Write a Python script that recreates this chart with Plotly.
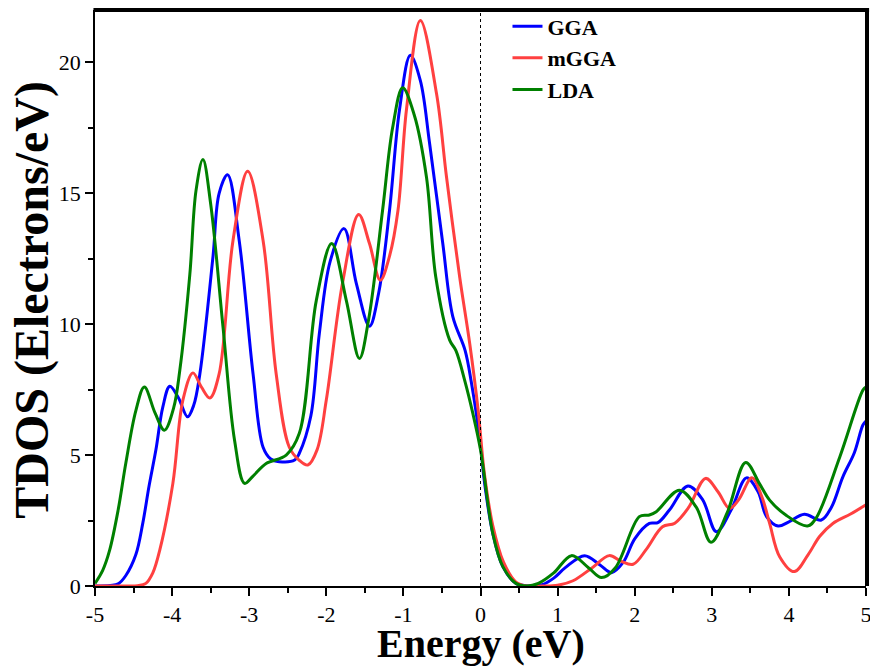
import plotly.graph_objects as go

# ---- data ----
gga_x = [-5, -4.8, -4.7, -4.6, -4.47, -4.38, -4.3, -4.21, -4.12, -4.03, -3.92, -3.80, -3.72, -3.64, -3.47, -3.39,
         -3.28, -3.13, -2.95, -2.82, -2.72, -2.61, -2.41, -2.35, -2.2, -2.09, -1.95, -1.77, -1.61, -1.44,
         -1.32, -1.18, -1.05, -0.91, -0.78, -0.66, -0.49, -0.36, -0.2, -0.12, 0, 0.05, 0.16, 0.29, 0.46,
         0.64, 0.8, 0.95, 1.1, 1.35, 1.55, 1.70, 1.85, 2.0, 2.19, 2.30, 2.45, 2.69, 2.88, 3.06, 3.25, 3.45,
         3.6, 3.71, 3.86, 4.0, 4.20, 4.42, 4.55, 4.70, 4.85, 4.96, 5.0]
gga_y = [0, 0.02, 0.08, 0.4, 1.2, 2.4, 3.8, 5.2, 6.84, 7.63, 7.2, 6.46, 6.9, 8.1, 12.57, 15.0,
         15.71, 13.2, 8.1, 5.3, 4.85, 4.75, 4.81, 5.07, 6.5, 9.65, 12.4, 13.65, 11.55, 9.92,
         11.2, 14.35, 18.2, 20.27, 19.3, 16.9, 13.1, 10.3, 9.0, 7.8, 5.4, 4.0, 2.0, 0.74, 0.1,
         0.0, 0.05, 0.3, 0.7, 1.16, 0.8, 0.51, 0.9, 1.8, 2.39, 2.42, 2.9, 3.82, 3.3, 2.07, 2.9, 4.13,
         3.6, 2.65, 2.29, 2.45, 2.74, 2.52, 3.0, 4.17, 5.1, 6.15, 6.3]

mgga_x = [-5, -4.6, -4.45, -4.34, -4.25, -4.16, -3.99, -3.86, -3.73, -3.62, -3.51, -3.39, -3.21, -3.02,
          -2.82, -2.65, -2.48, -2.35, -2.24, -2.12, -2.0, -1.79, -1.58, -1.44, -1.30, -1.18, -1.07, -0.96,
          -0.78, -0.57, -0.44, -0.27, -0.14, -0.03, 0.05, 0.16, 0.3, 0.46, 0.6, 0.8, 1.0, 1.2, 1.45, 1.67,
          1.82, 1.98, 2.15, 2.36, 2.52, 2.7, 2.92, 3.08, 3.23, 3.35, 3.52, 3.65, 3.75, 3.88, 4.07, 4.25,
          4.4, 4.57, 4.8, 5.0]
mgga_y = [0, 0.0, 0.01, 0.1, 0.5, 1.37, 3.92, 7.1, 8.14, 7.6, 7.18, 8.1, 13.2, 15.84,
          13.2, 8.1, 5.3, 4.8, 4.62, 5.2, 7.1, 11.56, 14.19, 13.08, 11.68, 12.6, 14.35, 18.2,
          21.6, 18.8, 15.6, 11.8, 9.26, 6.7, 4.3, 2.3, 0.9, 0.15, 0.0, 0.0, 0.03, 0.2, 0.7, 1.16,
          0.95, 0.83, 1.4, 2.26, 2.4, 3.0, 4.11, 3.6, 2.96, 3.3, 4.13, 3.4, 2.39, 1.12, 0.55, 1.2,
          1.9, 2.39, 2.75, 3.1]

lda_x = [-5, -4.9, -4.81, -4.7, -4.6, -4.47, -4.36, -4.22, -4.10, -3.98, -3.90, -3.77, -3.69, -3.60,
         -3.50, -3.34, -3.19, -3.06, -2.95, -2.78, -2.52, -2.35, -2.13, -1.93, -1.74, -1.57, -1.45, -1.27,
         -1.14, -1.01, -0.86, -0.70, -0.58, -0.40, -0.32, -0.2, -0.1, 0, 0.16, 0.29, 0.46, 0.6, 0.75, 0.95,
         1.18, 1.4, 1.57, 1.75, 2.06, 2.19, 2.28, 2.58, 2.8, 2.99, 3.2, 3.44, 3.62, 3.75, 3.96, 4.24, 4.35,
         4.66, 4.96, 5.0]
lda_y = [0.1, 0.6, 1.37, 2.9, 4.7, 6.7, 7.6, 6.6, 5.95, 6.8, 8.24, 11.9, 15.1, 16.29,
         14.6, 9.9, 5.57, 3.92, 4.2, 4.68, 5.0, 5.83, 10.9, 13.08, 10.9, 8.69, 10.2, 14.35,
         17.5, 19.03, 18.0, 15.6, 11.8, 9.39, 9.0, 7.8, 6.6, 5.2, 2.0, 0.74, 0.1, 0.0, 0.1, 0.5,
         1.16, 0.7, 0.32, 0.7, 2.65, 2.71, 2.84, 3.66, 3.0, 1.67, 2.8, 4.72, 3.9, 3.28, 2.71, 2.29, 2.58,
         4.93, 7.48, 7.6]

series_names = ["GGA", "mGGA", "LDA"]
series_colors = ["#0000FF", "#FF4040", "#008000"]
x_ticks = [-5, -4, -3, -2, -1, 0, 1, 2, 3, 4, 5]
y_ticks = [0, 5, 10, 15, 20]
x_title = "Energy (eV)"
y_title = "TDOS (Electrons/eV)"

assert len(gga_x) == len(gga_y)
assert len(mgga_x) == len(mgga_y)
assert len(lda_x) == len(lda_y)

FONT = "Liberation Serif, Times New Roman, serif"

fig = go.Figure()
for name, xs, ys, col in zip(series_names, [gga_x, mgga_x, lda_x], [gga_y, mgga_y, lda_y], series_colors):
    fig.add_trace(go.Scatter(x=xs, y=ys, mode="lines", name=name,
                             line=dict(color=col, width=3, shape="spline", smoothing=1.0)))

fig.update_layout(
    width=870, height=668,
    margin=dict(l=95, r=4, t=10, b=82, autoexpand=False),
    paper_bgcolor="white", plot_bgcolor="white",
    font=dict(family=FONT, color="black"),
    showlegend=True,
    legend=dict(x=0.535, y=1.008, xanchor="left", yanchor="top",
                bgcolor="rgba(0,0,0,0)", borderwidth=0, tracegroupgap=0,
                font=dict(family=FONT, size=22, color="black", weight="bold")),
    xaxis=dict(range=[-5, 5], tickvals=x_ticks, ticktext=[str(v) for v in x_ticks],
               automargin=False,
               ticks="outside", ticklen=8, tickwidth=1.5, tickcolor="black",
               showline=True, linewidth=1.5, linecolor="black", showgrid=False, zeroline=False,
               ticklabeloverflow="allow",
               minor=dict(dtick=0.5, ticks="outside", ticklen=5, tickwidth=1.5, tickcolor="black", showgrid=False),
               tickfont=dict(family=FONT, size=22, color="black")),
    yaxis=dict(range=[0, 22], tickvals=y_ticks, ticktext=[str(v) for v in y_ticks],
               automargin=False,
               ticks="outside", ticklen=8, tickwidth=1.5, tickcolor="black",
               showline=True, linewidth=1.5, linecolor="black", showgrid=False, zeroline=False,
               minor=dict(dtick=2.5, ticks="outside", ticklen=5, tickwidth=1.5, tickcolor="black", showgrid=False),
               tickfont=dict(family=FONT, size=22, color="black")),
    annotations=[
        dict(text=x_title, xref="paper", yref="paper", x=0.5, y=-0.1,
             xanchor="center", yanchor="middle", showarrow=False,
             font=dict(family=FONT, size=40, color="black", weight="bold")),
        dict(text=y_title, xref="paper", yref="paper", x=-0.082, y=0.4965,
             xanchor="center", yanchor="middle", showarrow=False, textangle=-90,
             font=dict(family=FONT, size=48, color="black", weight="bold")),
    ],
    shapes=[
        dict(type="line", xref="x", yref="paper", x0=0, x1=0, y0=0, y1=1,
             line=dict(color="black", width=1, dash="3px,3px")),
        dict(type="line", xref="paper", yref="paper", x0=-0.002, x1=1.004, y0=1, y1=1,
             line=dict(color="black", width=4)),
        dict(type="line", xref="paper", yref="paper", x0=1.0013, x1=1.0013, y0=0, y1=1.003,
             line=dict(color="black", width=4)),
    ],
)

fig.write_html("out.html", config={"displayModeBar": False},
               post_script="document.body.style.margin='0';document.body.style.overflow='hidden';")
